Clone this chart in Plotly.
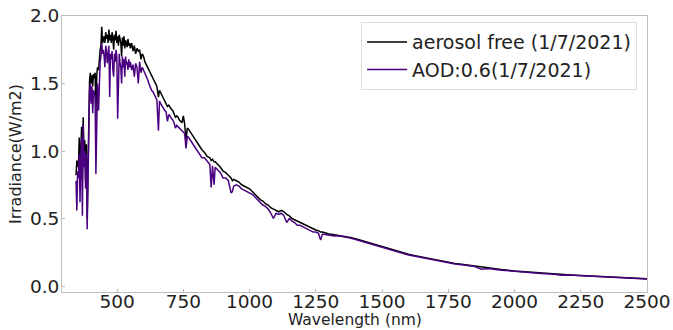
import plotly.graph_objects as go

wavelength = [345, 348, 351, 354, 357, 360, 363, 366, 369, 372, 375, 378, 381, 384, 387, 390,
              393, 396, 399, 402, 405, 408, 411, 414, 417, 420, 423, 426, 430, 433, 436, 439,
              442, 445, 448, 451, 454, 457, 460, 463, 466, 469, 472, 475, 478, 481, 484, 487,
              490, 493, 496, 499, 502, 505, 508, 511, 514, 517, 520, 523, 526, 529, 532, 535,
              538, 541, 544, 547, 550, 555, 560, 565, 570, 575, 580, 585, 590, 595, 600, 605,
              610, 615, 620, 625, 630, 635, 640, 645, 650, 656, 660, 665, 670, 675, 680, 685,
              690, 695, 700, 705, 710, 715, 720, 725, 730, 735, 740, 745, 750, 755, 760, 765,
              770, 780, 790, 800, 810, 820, 830, 840, 850, 855, 860, 866, 870, 880, 890, 900,
              910, 920, 930, 935, 940, 950, 960, 970, 980, 990, 1000, 1010, 1020, 1030, 1040, 1050,
              1060, 1070, 1080, 1090, 1100, 1110, 1120, 1130, 1140, 1150, 1160, 1170, 1180, 1190, 1200, 1210,
              1220, 1230, 1240, 1250, 1260, 1268, 1275, 1290, 1300, 1320, 1340, 1360, 1380, 1400, 1425, 1450,
              1475, 1500, 1525, 1550, 1575, 1600, 1625, 1650, 1675, 1700, 1725, 1750, 1775, 1800, 1825, 1850,
              1875, 1900, 1950, 2000, 2050, 2100, 2150, 2175, 2200, 2250, 2300, 2350, 2400, 2450, 2500]

aerosol_free = [0.82, 0.93, 0.90, 0.88, 1.10, 0.92, 1.00, 1.18, 0.80, 1.25, 0.95, 1.08, 0.78, 1.05, 0.50, 0.95,
                1.45, 1.52, 1.58, 1.50, 1.56, 1.48, 1.57, 1.54, 1.58, 1.25, 1.55, 1.62, 1.60, 1.70, 1.75, 1.78,
                1.92, 1.80, 1.82, 1.85, 1.80, 1.88, 1.83, 1.86, 1.80, 1.90, 1.82, 1.86, 1.80, 1.88, 1.84, 1.75,
                1.86, 1.82, 1.89, 1.80, 1.85, 1.78, 1.86, 1.82, 1.80, 1.70, 1.84, 1.78, 1.85, 1.76, 1.82, 1.80,
                1.77, 1.83, 1.78, 1.80, 1.76, 1.80, 1.74, 1.78, 1.72, 1.76, 1.74, 1.75, 1.68, 1.72, 1.70, 1.66,
                1.64, 1.62, 1.60, 1.58, 1.55, 1.53, 1.52, 1.49, 1.48, 1.40, 1.45, 1.43, 1.41, 1.40, 1.38, 1.36,
                1.33, 1.34, 1.32, 1.31, 1.30, 1.28, 1.25, 1.26, 1.25, 1.23, 1.22, 1.21, 1.26, 1.20, 1.08, 1.17,
                1.16, 1.13, 1.10, 1.06, 1.04, 1.01, 0.99, 0.96, 0.95, 0.93, 0.94, 0.92, 0.92, 0.90, 0.88, 0.85,
                0.84, 0.82, 0.80, 0.78, 0.79, 0.78, 0.77, 0.75, 0.74, 0.73, 0.72, 0.70, 0.68, 0.66, 0.64, 0.63,
                0.61, 0.60, 0.58, 0.57, 0.56, 0.55, 0.56, 0.55, 0.53, 0.52, 0.50, 0.49, 0.48, 0.47, 0.46, 0.45,
                0.44, 0.43, 0.42, 0.415, 0.41, 0.40, 0.40, 0.39, 0.385, 0.38, 0.375, 0.37, 0.36, 0.35, 0.335, 0.32,
                0.305, 0.29, 0.275, 0.26, 0.25, 0.235, 0.225, 0.215, 0.205, 0.195, 0.185, 0.175, 0.168, 0.162, 0.155, 0.148,
                0.140, 0.134, 0.122, 0.112, 0.104, 0.096, 0.090, 0.087, 0.084, 0.079, 0.073, 0.068, 0.063, 0.058, 0.054]

aod_06 = [0.78, 0.56, 0.85, 0.80, 0.98, 0.62, 0.94, 1.10, 0.52, 1.20, 0.88, 1.00, 0.72, 0.98, 0.42, 0.90,
          1.38, 1.45, 1.50, 1.35, 1.48, 1.28, 1.45, 1.42, 1.40, 0.83, 1.45, 1.50, 1.30, 1.58, 1.66, 1.70,
          1.80, 1.72, 1.75, 1.70, 1.62, 1.78, 1.74, 1.65, 1.72, 1.78, 1.40, 1.72, 1.68, 1.74, 1.60, 1.55,
          1.72, 1.66, 1.75, 1.70, 1.24, 1.68, 1.72, 1.65, 1.62, 1.50, 1.70, 1.62, 1.68, 1.55, 1.70, 1.64,
          1.66, 1.60, 1.68, 1.62, 1.66, 1.60, 1.64, 1.55, 1.65, 1.62, 1.50, 1.66, 1.58, 1.62, 1.60, 1.58,
          1.55, 1.53, 1.50, 1.47, 1.45, 1.44, 1.42, 1.40, 1.38, 1.15, 1.37, 1.35, 1.33, 1.32, 1.30, 1.29,
          1.22, 1.27, 1.26, 1.24, 1.23, 1.21, 1.17, 1.19, 1.18, 1.17, 1.16, 1.15, 1.14, 1.13, 1.02, 1.11,
          1.10, 1.07, 1.05, 1.02, 0.99, 0.95, 0.95, 0.92, 0.90, 0.73, 0.89, 0.75, 0.88, 0.86, 0.84, 0.80,
          0.80, 0.78, 0.69, 0.70, 0.74, 0.75, 0.74, 0.72, 0.71, 0.70, 0.69, 0.68, 0.66, 0.64, 0.62, 0.60,
          0.59, 0.57, 0.54, 0.50, 0.54, 0.53, 0.54, 0.52, 0.47, 0.50, 0.48, 0.47, 0.45, 0.45, 0.44, 0.43,
          0.42, 0.41, 0.40, 0.40, 0.39, 0.34, 0.385, 0.38, 0.375, 0.37, 0.37, 0.365, 0.355, 0.345, 0.33, 0.315,
          0.30, 0.285, 0.27, 0.255, 0.245, 0.23, 0.22, 0.21, 0.20, 0.19, 0.18, 0.17, 0.163, 0.157, 0.151, 0.145,
          0.125, 0.13, 0.118, 0.108, 0.10, 0.093, 0.087, 0.080, 0.082, 0.077, 0.071, 0.066, 0.061, 0.057, 0.053]

x_ticks = [500, 750, 1000, 1250, 1500, 1750, 2000, 2250, 2500]
y_ticks = [0.0, 0.5, 1.0, 1.5, 2.0]

FONT = "DejaVu Sans"
AX = "#bdbdbd"

fig = go.Figure()
fig.add_trace(go.Scatter(x=wavelength, y=aerosol_free, mode="lines", name="aerosol free (1/7/2021)",
                         line=dict(color="#000000", width=1.5)))
fig.add_trace(go.Scatter(x=wavelength, y=aod_06, mode="lines", name="AOD:0.6(1/7/2021)",
                         line=dict(color="#4B0082", width=1.5)))

fig.update_layout(
    width=673, height=330,
    margin=dict(l=62, r=26, t=16, b=38),
    paper_bgcolor="white", plot_bgcolor="white",
    font=dict(family=FONT, size=18, color="#222222"),
    showlegend=True,
    legend=dict(x=0.983, y=0.978, xanchor="right", yanchor="top",
                bgcolor="white", bordercolor="#dddddd", borderwidth=1,
                font=dict(family=FONT, size=19, color="#222222"),
                tracegroupgap=0, itemwidth=40),
    xaxis=dict(range=[292, 2500], tickvals=x_ticks, ticktext=[str(v) for v in x_ticks],
               showgrid=False, zeroline=False, showline=True, mirror=True,
               linecolor=AX, linewidth=1, ticks="inside", ticklen=3, tickcolor=AX,
               tickfont=dict(size=18.5), automargin=False, ticklabelstandoff=-7),
    yaxis=dict(range=[-0.044, 2.0], tickvals=y_ticks, ticktext=["%.1f" % v for v in y_ticks],
               showgrid=False, zeroline=False, showline=True, mirror=True,
               linecolor=AX, linewidth=1, ticks="inside", ticklen=3, tickcolor=AX,
               tickfont=dict(size=18.5), automargin=False, ticklabelstandoff=-2,
               title=dict(text="Irradiance(W/m2)", font=dict(size=16), standoff=4)),
    annotations=[dict(text="Wavelength (nm)", xref="paper", yref="paper", x=0.5, y=0,
                      xanchor="center", yanchor="bottom", yshift=-38, borderpad=0,
                      showarrow=False, font=dict(family=FONT, size=15.5, color="#222222"))],
)

fig.write_html("out.html", config={"displayModeBar": False},
               post_script="document.body.style.margin='0px';")
